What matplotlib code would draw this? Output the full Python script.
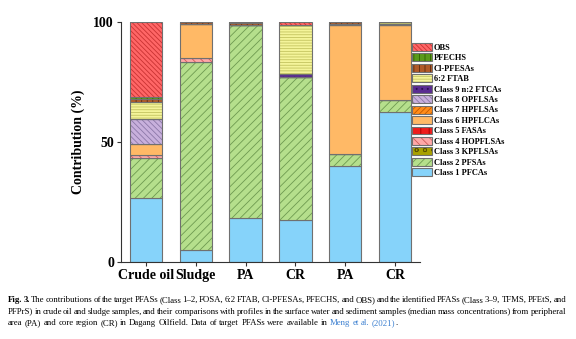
import numpy as np
import matplotlib
matplotlib.use('Agg')
from matplotlib import pyplot as plt
from matplotlib.patches import Patch

plt.rcParams['font.family'] = ['Liberation Serif', 'DejaVu Serif']
plt.rcParams['hatch.linewidth'] = 0.6

samples = ['Crude oil', 'Sludge', 'PA', 'CR', 'PA', 'CR']

# stacked from bottom to top (%)
class1 = [26.6, 5.1, 18.5, 17.4, 40.2, 62.4]
class2 = [16.6, 78.4, 80.2, 59.6, 4.6, 5.2]
class3 = [0, 0, 0, 0, 0, 0]
class4 = [1.2, 1.5, 0, 0, 0, 0]
class5 = [0, 0, 0, 0, 0, 0]
class6 = [4.9, 14.2, 0, 0, 53.9, 31.1]
class7 = [0, 0, 0, 0, 0, 0]
class8 = [10.3, 0, 0, 0, 0, 0]
class9 = [0, 0, 0, 1.4, 0.6, 0.5]
ftab = [7.1, 0, 0, 20.3, 0, 0.8]
clpfesas = [1.4, 0.6, 1.0, 0, 0.7, 0]
pfechs = [0.5, 0.2, 0.3, 0, 0, 0]
obs = [31.4, 0, 0, 1.3, 0, 0]

labels = ['Class 1 PFCAs', 'Class 2 PFSAs', 'Class 3 KPFLSAs', 'Class 4 HOPFLSAs',
          'Class 5 FASAs', 'Class 6 HPFLCAs', 'Class 7 HPFLSAs', 'Class 8 OPFLSAs',
          'Class 9 n:2 FTCAs', '6:2 FTAB', 'Cl-PFESAs', 'PFECHS', 'OBS']
series = [class1, class2, class3, class4, class5, class6, class7, class8,
          class9, ftab, clpfesas, pfechs, obs]
# (face, hatch colour, hatch)
styles = [('#86d3fa', '#86d3fa', None),
          ('#b5df8c', '#6e9a50', '////'),
          ('#a8a000', '#5c5400', 'oo'),
          ('#ffa8a8', '#d05a5a', '\\\\\\\\'),
          ('#ee1c1c', '#a00000', '||'),
          ('#ffb966', '#ffb966', None),
          ('#ff8c1a', '#c05a00', '//////'),
          ('#c8b0dc', '#8c78a8', '\\\\\\\\\\\\'),
          ('#5a2c91', '#2a1050', '...'),
          ('#f4f49a', '#c4c460', '------'),
          ('#b05a28', '#5a2a10', '|||'),
          ('#5a9a1a', '#2f6000', '|||'),
          ('#ff6666', '#c83232', '\\\\\\\\\\\\\\')]
edge = '#707070'

fig = plt.figure(figsize=(5.76, 3.39), dpi=100)
ax = fig.add_axes([121/576, 1-262/339, 299/576, 240/339])

x = np.arange(len(samples))
w = 0.65
bottom = np.zeros(len(samples))
handles = []
for vals, (fc, hc, ht), lab in zip(series, styles, labels):
    vals = np.array(vals, dtype=float)
    ax.bar(x, vals, w, bottom=bottom, color=fc, edgecolor=hc, hatch=ht, linewidth=0)
    ax.bar(x, vals, w, bottom=bottom, fill=False, edgecolor=edge, linewidth=0.8)
    bottom += vals
    handles.append((Patch(facecolor=fc, edgecolor=hc, hatch=ht, linewidth=0),
                    Patch(fill=False, edgecolor=edge, linewidth=0.8)))

ax.set_xlim(-0.5, 5.5)
ax.set_ylim(0, 100)
ax.set_yticks([0, 50, 100])
ax.set_xticks(x)
ax.set_xticklabels(samples, fontsize=10, fontweight='bold')
for t in ax.get_yticklabels():
    t.set_fontsize(10)
    t.set_fontweight('bold')
ax.set_ylabel('Contribution (%)', fontsize=10, fontweight='bold', labelpad=6)
ax.spines['top'].set_visible(False)
ax.spines['right'].set_visible(False)
for s in ['left', 'bottom']:
    ax.spines[s].set_color('#333333')
    ax.spines[s].set_linewidth(0.8)
ax.tick_params(direction='out', length=3, width=0.8, color='#333333', pad=2)

leg = fig.legend(handles[::-1], labels[::-1], loc='upper left',
                 bbox_to_anchor=(412/576, 1-43/339), frameon=False,
                 prop={'size': 6, 'weight': 'bold'}, handlelength=2.4,
                 handleheight=1.08, labelspacing=0.2, handletextpad=0.25,
                 borderpad=0, borderaxespad=0)

# caption, justified word by word
fig.canvas.draw()
r = fig.canvas.get_renderer()
cap_fs = 6.3
left_px, right_px = 8, 566
blue = '#3a7fd0'

def word_width(wd, **kw):
    t = fig.text(0, 0, wd, fontsize=cap_fs, **kw)
    wpx = t.get_window_extent(r).width
    t.remove()
    return wpx

space = word_width('a b') - word_width('ab')

def put_line(words, y_px, justify=True):
    widths = [word_width(wd, **kw) for wd, kw in words]
    gap = (right_px - left_px - sum(widths)) / (len(words) - 1) if justify else space
    xp = left_px
    for (wd, kw), wpx in zip(words, widths):
        fig.text(xp/576, 1-y_px/339, wd, fontsize=cap_fs, va='center', **kw)
        xp += wpx + gap
    return xp

line1 = "The contributions of the target PFASs (Class 1–2, FOSA, 6:2 FTAB, Cl-PFESAs, PFECHS, and OBS) and the identified PFASs (Class 3–9, TFMS, PFEtS, and"
line2 = "PFPrS) in crude oil and sludge samples, and their comparisons with profiles in the surface water and sediment samples (median mass concentrations) from peripheral"
line3 = "area (PA) and core region (CR) in Dagang Oilfield. Data of target PFASs were available in"

w1 = [('Fig.', {'fontweight': 'bold'}), ('3.', {'fontweight': 'bold'})] + [(s, {}) for s in line1.split()]
put_line(w1, 300)
put_line([(s, {}) for s in line2.split()], 311.5)
w3 = [(s, {}) for s in line3.split()] + [(s, {'color': blue}) for s in ['Meng', 'et', 'al.', '(2021)']]
xe = put_line(w3, 323, justify=False)
fig.text((xe - space)/576, 1-323/339, '.', fontsize=cap_fs, va='center')

fig.savefig('out.png', dpi=100)
